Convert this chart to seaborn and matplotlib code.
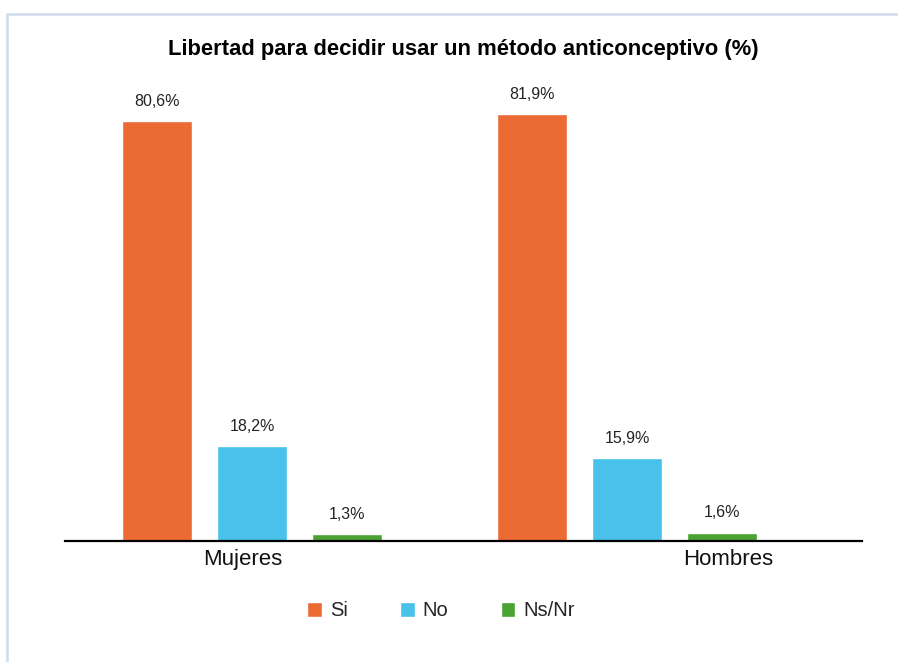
import pandas as pd
import matplotlib.pyplot as plt
import seaborn as sns
from matplotlib.lines import Line2D

# Data
groups = ["Mujeres", "Hombres"]
answers = ["Si", "No", "Ns/Nr"]
mujeres = [80.6, 18.2, 1.3]
hombres = [81.9, 15.9, 1.6]
colors = ["#EC6B35", "#48C1EB", "#4AA232"]

rows = []
for g, vals in zip(groups, [mujeres, hombres]):
    for a, v in zip(answers, vals):
        rows.append({"grupo": g, "respuesta": a, "pct": v})
df = pd.DataFrame(rows)

sns.set_theme(style="white")
plt.rcParams["font.family"] = ["Liberation Sans", "DejaVu Sans"]

fig = plt.figure(figsize=(8.98, 6.62), dpi=100)
ax = fig.add_axes([0.0724, 0.1828, 0.8876, 0.708])

sns.barplot(
    data=df, x="grupo", y="pct", hue="respuesta",
    order=groups, hue_order=answers, palette=colors,
    width=0.76, gap=0.26, errorbar=None, saturation=1, ax=ax
)

# Value labels
for cont in ax.containers:
    labs = [f"{b.get_height():.1f}%".replace(".", ",") for b in cont]
    ax.bar_label(cont, labels=labs, padding=9, fontsize=11.5, color="#222222")

ax.set_xlim(-0.499, 1.627)
ax.set_ylim(0, 90)
ax.set_xlabel("")
ax.set_ylabel("")
ax.set_yticks([])
ax.set_xticks([-0.024, 1.269])
ax.set_xticklabels(groups, fontsize=16, color="#111111")
ax.tick_params(axis="x", length=0, pad=6)
for s in ["top", "right", "left"]:
    ax.spines[s].set_visible(False)
ax.spines["bottom"].set_color("black")
ax.spines["bottom"].set_linewidth(1.6)

# Title
fig.text(0.516, 1 - 50 / 662, "Libertad para decidir usar un método anticonceptivo (%)",
         ha="center", va="center", fontsize=15.8, fontweight="bold", color="black")

# Legend
ax.legend(loc="center", bbox_to_anchor=(441 / 898, 1 - 611 / 662),
          bbox_transform=fig.transFigure, ncol=3, frameon=False,
          fontsize=14.5, handlelength=0.72, handleheight=0.72,
          handletextpad=0.4, columnspacing=2.6)

# Frame lines
frame_col = "#D0DBEA"
fig.add_artist(Line2D([7 / 898, 1], [1 - 13.5 / 662, 1 - 13.5 / 662],
                      transform=fig.transFigure, color=frame_col, lw=1.8))
fig.add_artist(Line2D([7 / 898, 7 / 898], [0, 1 - 13.5 / 662],
                      transform=fig.transFigure, color=frame_col, lw=1.8))

fig.savefig("out.png", dpi=100)
